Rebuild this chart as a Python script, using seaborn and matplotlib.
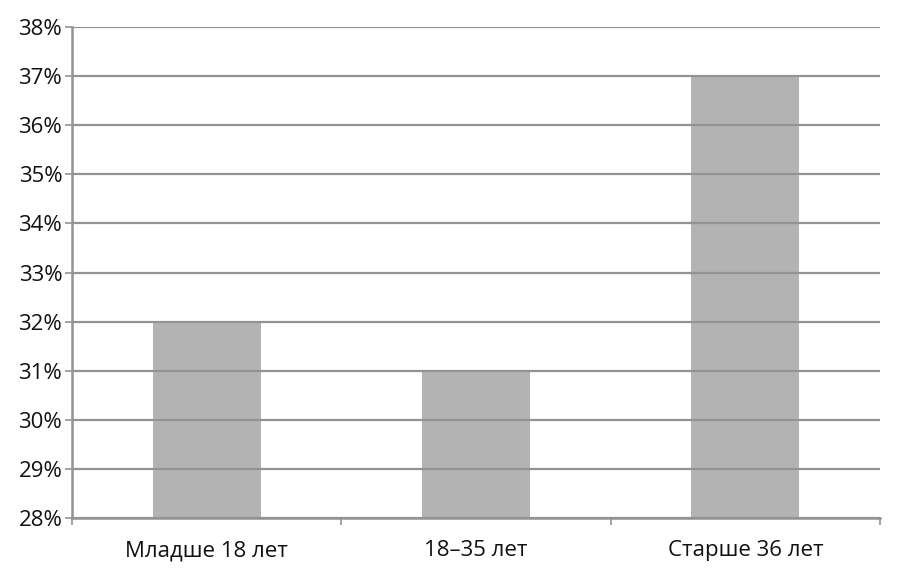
import matplotlib
matplotlib.use("Agg")
import matplotlib.pyplot as plt
import seaborn as sns
import pandas as pd
from matplotlib.ticker import FuncFormatter, FixedLocator

# data
groups = ["Младше 18 лет", "18–35 лет", "Старше 36 лет"]
shares = [32, 31, 37]
y_ticks = list(range(28, 39))

df = pd.DataFrame({"group": groups, "share": shares})

sns.set_style("white")
plt.rcParams["font.family"] = ["Open Sans", "DejaVu Sans"]

fig = plt.figure(figsize=(9, 5.71), dpi=100)
ax = fig.add_axes([72 / 900, 53 / 571, 808 / 900, 491 / 571])

sns.barplot(data=df, x="group", y="share", color="#b3b3b3", saturation=1,
            width=0.4, ax=ax, zorder=1)
for p in ax.patches:
    p.set_edgecolor("none")

ax.set_ylim(28, 38)
ax.set_xlim(-0.5, 2.5)
ax.set_yticks(y_ticks)
ax.yaxis.set_major_formatter(FuncFormatter(lambda v, _: f"{int(v)}%"))
ax.grid(axis="y", color="#939393", linewidth=1.6, zorder=2)
ax.set_axisbelow(False)

ax.xaxis.set_minor_locator(FixedLocator([-0.5, 0.5, 1.5, 2.5]))
ax.tick_params(axis="x", which="major", length=0, pad=16, labelsize=16, labelcolor="#111111")
ax.tick_params(axis="x", which="minor", length=5, width=1.2, color="#939393", direction="out", bottom=True)
ax.tick_params(axis="y", length=5, width=1.2, color="#939393", direction="out", left=True,
               labelsize=16, labelcolor="#111111", pad=2)

for s in ["top", "right"]:
    ax.spines[s].set_visible(False)
for s in ["left", "bottom"]:
    ax.spines[s].set_color("#939393")
    ax.spines[s].set_linewidth(1.8)
    ax.spines[s].set_zorder(3)

ax.set_xlabel("")
ax.set_ylabel("")

fig.savefig("out.png", dpi=100)
